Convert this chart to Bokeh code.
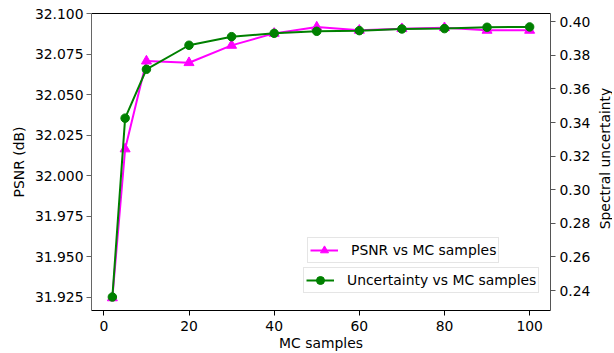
import math
from bokeh.plotting import figure
from bokeh.models import Range1d, LinearAxis, FixedTicker, PrintfTickFormatter, Legend, LegendItem, Label
from bokeh.embed import file_html
from bokeh.resources import INLINE

mc_samples = [2, 5, 10, 20, 30, 40, 50, 60, 70, 80, 90, 100]
psnr = [31.9245, 32.0165, 32.0708, 32.0698, 32.0805, 32.0879, 32.0918, 32.0898, 32.0908, 32.0914, 32.0898, 32.0898]
uncertainty = [0.2361, 0.3426, 0.3717, 0.3860, 0.3911, 0.3931, 0.3943, 0.3947, 0.3957, 0.3959, 0.3967, 0.3969]
x_ticks = [0, 20, 40, 60, 80, 100]
psnr_ticks = [31.925, 31.950, 31.975, 32.000, 32.025, 32.050, 32.075, 32.100]
unc_ticks = [0.24, 0.26, 0.28, 0.30, 0.32, 0.34, 0.36, 0.38, 0.40]

FONT = "DejaVu Sans"
FS = "13.9px"

p = figure(width=612, height=353, output_backend="svg", toolbar_location=None,
           x_range=Range1d(-2.9, 104.9), y_range=Range1d(31.9167, 32.1002),
           min_border_left=91, min_border_right=62, min_border_top=13, min_border_bottom=43)
p.extra_y_ranges = {"unc": Range1d(0.2281, 0.4049)}
p.grid.visible = False
p.outline_line_color = None
p.background_fill_color = "white"


def style_axis(ax, line_color):
    ax.axis_line_color = line_color
    ax.axis_line_width = 1
    ax.major_tick_line_color = line_color
    ax.major_tick_in = 0
    ax.major_tick_out = 5
    ax.minor_tick_line_color = None
    ax.major_label_text_font = FONT
    ax.major_label_text_font_size = FS
    ax.major_label_text_color = "#000000"
    ax.axis_label_text_font = FONT
    ax.axis_label_text_font_size = FS
    ax.axis_label_text_font_style = "normal"
    ax.axis_label_text_color = "#000000"


xa = p.xaxis[0]
style_axis(xa, "#000000")
xa.ticker = FixedTicker(ticks=x_ticks)
xa.axis_label = "MC samples"
xa.major_label_standoff = 5
xa.axis_label_standoff = 1

ya = p.yaxis[0]
style_axis(ya, "#666666")
ya.ticker = FixedTicker(ticks=psnr_ticks)
ya.formatter = PrintfTickFormatter(format="%.3f")
ya.axis_label = "PSNR (dB)"
ya.major_label_standoff = 3
ya.axis_label_standoff = 5

ra = LinearAxis(y_range_name="unc")
style_axis(ra, "#555555")
ra.ticker = FixedTicker(ticks=unc_ticks)
ra.formatter = PrintfTickFormatter(format="%.2f")
ra.major_label_standoff = 4
p.add_layout(ra, "right")

# right-side label (reads bottom-to-top, like matplotlib's twin ylabel)
right_label = Label(text="Spectral uncertainty", x=11, y=152, x_units="screen", y_units="screen",
                    angle=math.pi / 2, text_align="center", text_baseline="middle",
                    text_font=FONT, text_font_size=FS, text_color="#000000")
p.add_layout(right_label, "right")

ta = LinearAxis(ticker=FixedTicker(ticks=[]), axis_line_color="#000000",
                major_tick_out=0, major_tick_in=0, minor_tick_out=0, minor_tick_in=0)
p.add_layout(ta, "above")

l1 = p.line(mc_samples, psnr, line_color="#ff00ff", line_width=2)
s1 = p.scatter(mc_samples, psnr, marker="triangle", size=10, fill_color="#ff00ff", line_color="#ff00ff")
l2 = p.line(mc_samples, uncertainty, line_color="#008000", line_width=2, y_range_name="unc")
s2 = p.scatter(mc_samples, uncertainty, marker="circle", size=8.5, fill_color="#008000", line_color="#008000",
               y_range_name="unc")


def make_legend(label, renderers, loc):
    return Legend(items=[LegendItem(label=label, renderers=renderers)], location=loc,
                  padding=2, spacing=0, margin=0, glyph_width=28, glyph_height=20,
                  label_height=20, label_standoff=13, label_text_font=FONT,
                  label_text_font_size=FS, label_text_color="#000000",
                  border_line_color="#cccccc", border_line_width=1,
                  background_fill_color="white", background_fill_alpha=0.8)


p.add_layout(make_legend("PSNR vs MC samples", [l1, s1], (216, 47)))
p.add_layout(make_legend("Uncertainty vs MC samples", [l2, s2], (212, 17)))

open("out.html", "w").write(file_html(p, INLINE))
